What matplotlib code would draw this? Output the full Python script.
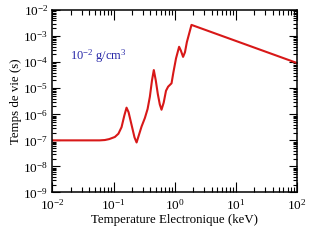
import numpy as np
import matplotlib
matplotlib.use('Agg')
import matplotlib.pyplot as plt
from matplotlib.ticker import LogLocator, NullFormatter

plt.rcParams['font.family'] = ['Liberation Serif', 'DejaVu Serif']
plt.rcParams['mathtext.fontset'] = 'custom'
plt.rcParams['mathtext.rm'] = 'Liberation Serif'
plt.rcParams['mathtext.it'] = 'Liberation Serif:italic'

# electron temperature (keV) and lifetime (s)
temp = [0.01, 0.059, 0.072, 0.085, 0.105, 0.120, 0.135, 0.150, 0.163, 0.176,
        0.197, 0.220, 0.238, 0.255, 0.287, 0.325, 0.360, 0.392, 0.425, 0.455,
        0.490, 0.529, 0.570, 0.608, 0.660, 0.720, 0.780, 0.887, 0.95, 1.05,
        1.18, 1.26, 1.37, 1.47, 1.58, 1.88, 100.0]
tau = [1.0e-7, 1.0e-7, 1.03e-7, 1.12e-7, 1.35e-7, 1.8e-7, 3.2e-7, 9.0e-7, 1.8e-6, 1.2e-6,
       3.9e-7, 1.3e-7, 8.3e-8, 1.4e-7, 3.4e-7, 7.2e-7, 1.6e-6, 4.7e-6, 2.0e-5, 5.0e-5,
       2.0e-5, 6.0e-6, 2.4e-6, 1.5e-6, 2.8e-6, 8.0e-6, 1.15e-5, 1.55e-5, 4.0e-5, 1.4e-4,
       3.9e-4, 2.8e-4, 1.6e-4, 2.4e-4, 5.9e-4, 2.7e-3, 9.3e-5]

fig = plt.figure(figsize=(3.12, 2.4), dpi=100)
ax = fig.add_axes([0.168, 0.198, 0.784, 0.760])

ax.plot(temp, tau, color='#d81818', lw=1.5)

ax.set_xscale('log')
ax.set_yscale('log')
ax.set_xlim(1e-2, 1e2)
ax.set_ylim(1e-9, 1e-2)

ax.xaxis.set_major_locator(LogLocator(base=10, numticks=10))
ax.yaxis.set_major_locator(LogLocator(base=10, numticks=10))
ax.xaxis.set_minor_locator(LogLocator(base=10, subs=np.arange(2, 10), numticks=20))
ax.yaxis.set_minor_locator(LogLocator(base=10, subs=np.arange(2, 10), numticks=20))
ax.xaxis.set_minor_formatter(NullFormatter())
ax.yaxis.set_minor_formatter(NullFormatter())

ax.tick_params(which='both', direction='in', top=True, right=True, width=0.8,
               labelsize=9.5, colors='black')
ax.tick_params(axis='x', which='major', length=7, pad=4)
ax.tick_params(axis='x', which='minor', length=3.5)
ax.tick_params(axis='y', which='major', length=5.5, pad=3)
ax.tick_params(axis='y', which='minor', length=3)
for sp in ax.spines.values():
    sp.set_linewidth(1.1)

ax.set_xlabel('Temperature Electronique (keV)', fontsize=9.3, labelpad=1)
ax.set_ylabel('Temps de vie (s)', fontsize=9.3, labelpad=1)

ax.text(0.072, 0.726, r'$\mathregular{10^{-2}}$ g/cm$\mathregular{^3}$', transform=ax.transAxes,
        color='#2828a8', fontsize=9, ha='left', va='baseline')

fig.savefig('out.png', dpi=100)
